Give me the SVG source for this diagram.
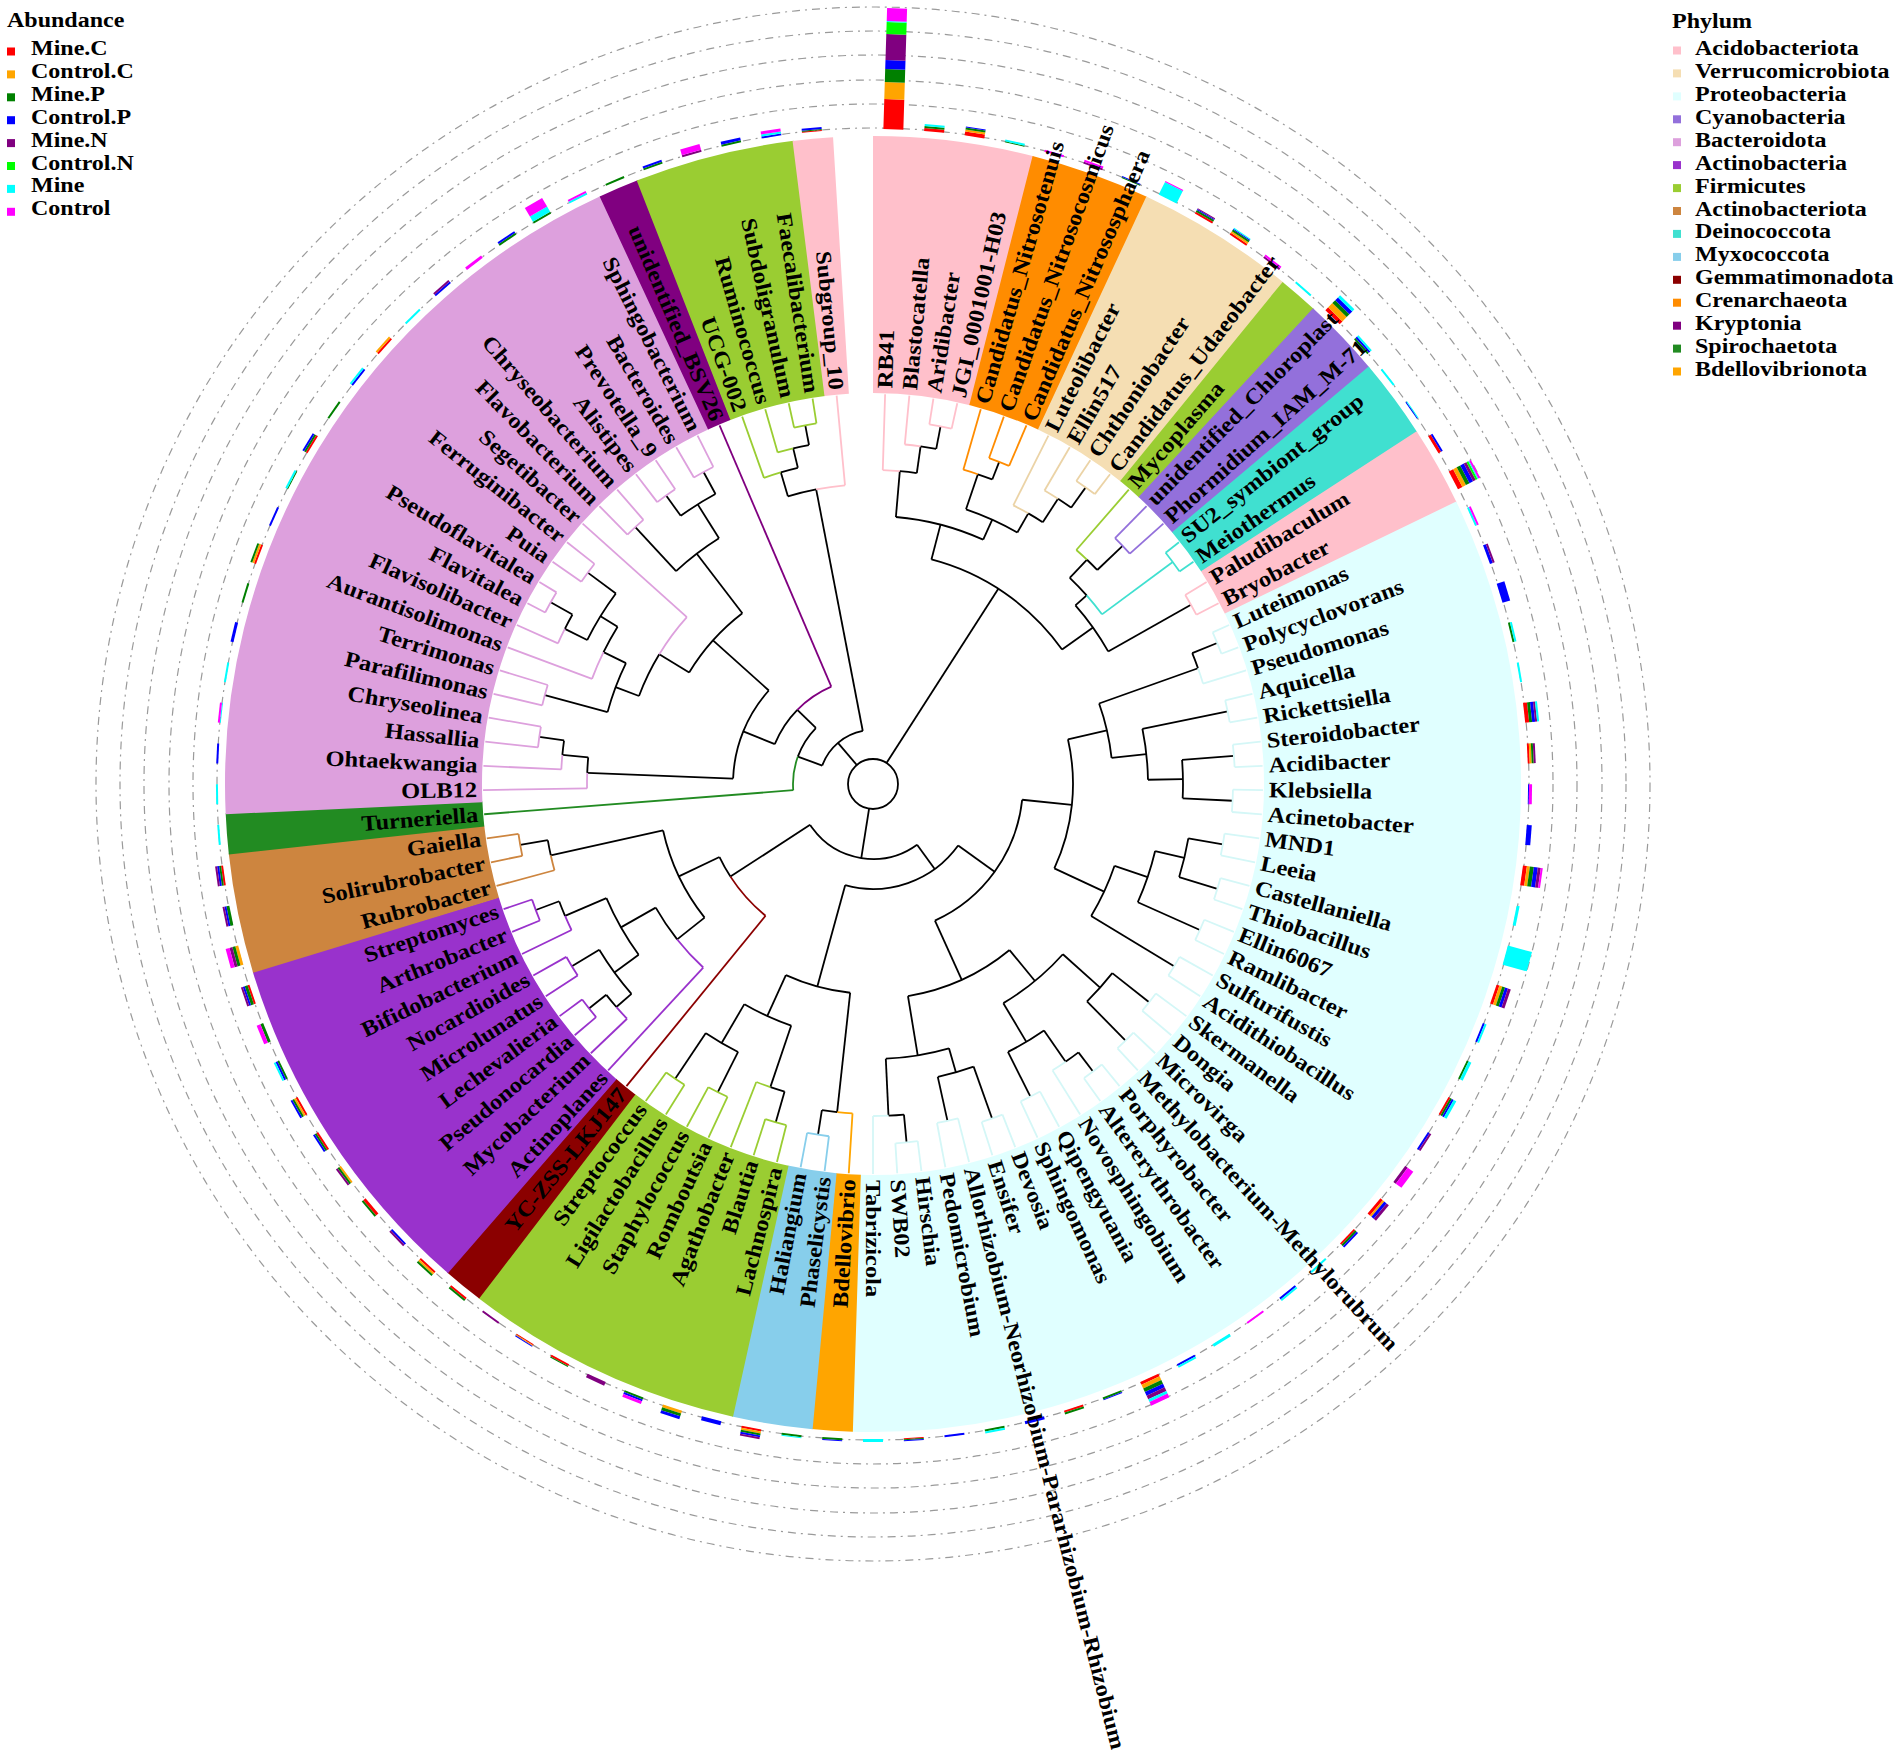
<svg xmlns="http://www.w3.org/2000/svg" width="1902" height="1758" viewBox="0 0 1902 1758">
<style>
text{font-family:"Liberation Serif","Times New Roman",serif;font-weight:bold;fill:#000}
.lb text{font-size:22px}
.lb .e{text-anchor:end}
.lg text{font-size:20px}
.sec circle{fill:none;stroke-width:257}
.grid circle{fill:none;stroke:#9a9a9a;stroke-width:1.2;stroke-dasharray:8 5 2 5}
#tree circle,#tree line{fill:none;stroke-width:1.8}
#bars line{stroke-width:20}
.r{stroke:#f00}.o{stroke:#ffa500}.g{stroke:#008000}.b{stroke:#00f}.p{stroke:#800080}.l{stroke:#0f0}.c{stroke:#0ff}.m{stroke:#f0f}
</style>
<rect width="1902" height="1758" fill="#fff"/>
<g transform="translate(873 784)">
<g id="sectors" class="sec">
<circle r="519.5" pathLength="360" stroke="#FFC0CB" stroke-dasharray="14.36 999" transform="rotate(-90)"/>
<circle r="519.5" pathLength="360" stroke="#FF8C00" stroke-dasharray="10.79 999" transform="rotate(-75.743)"/>
<circle r="519.5" pathLength="360" stroke="#F5DEB3" stroke-dasharray="14.36 999" transform="rotate(-65.05)"/>
<circle r="519.5" pathLength="360" stroke="#9ACD32" stroke-dasharray="3.66 999" transform="rotate(-50.792)"/>
<circle r="519.5" pathLength="360" stroke="#9370DB" stroke-dasharray="7.23 999" transform="rotate(-47.228)"/>
<circle r="519.5" pathLength="360" stroke="#40E0D0" stroke-dasharray="7.23 999" transform="rotate(-40.099)"/>
<circle r="519.5" pathLength="360" stroke="#FFC0CB" stroke-dasharray="7.23 999" transform="rotate(-32.97)"/>
<circle r="519.5" pathLength="360" stroke="#E0FFFF" stroke-dasharray="117.72 999" transform="rotate(-25.842)"/>
<circle r="519.5" pathLength="360" stroke="#FFA500" stroke-dasharray="3.66 999" transform="rotate(91.782)"/>
<circle r="519.5" pathLength="360" stroke="#87CEEB" stroke-dasharray="7.23 999" transform="rotate(95.347)"/>
<circle r="519.5" pathLength="360" stroke="#9ACD32" stroke-dasharray="25.05 999" transform="rotate(102.475)"/>
<circle r="519.5" pathLength="360" stroke="#8B0000" stroke-dasharray="3.66 999" transform="rotate(127.426)"/>
<circle r="519.5" pathLength="360" stroke="#9932CC" stroke-dasharray="32.18 999" transform="rotate(130.99)"/>
<circle r="519.5" pathLength="360" stroke="#CD853F" stroke-dasharray="10.79 999" transform="rotate(163.069)"/>
<circle r="519.5" pathLength="360" stroke="#228B22" stroke-dasharray="3.66 999" transform="rotate(173.762)"/>
<circle r="519.5" pathLength="360" stroke="#DDA0DD" stroke-dasharray="67.82 999" transform="rotate(177.327)"/>
<circle r="519.5" pathLength="360" stroke="#800080" stroke-dasharray="3.66 999" transform="rotate(245.05)"/>
<circle r="519.5" pathLength="360" stroke="#9ACD32" stroke-dasharray="14.36 999" transform="rotate(248.614)"/>
<circle r="519.5" pathLength="360" stroke="#FFC0CB" stroke-dasharray="3.6 999" transform="rotate(262.871)"/>
</g>
<g id="grid" class="grid">
<circle r="656"/><circle r="680"/><circle r="704"/><circle r="729"/><circle r="753"/><circle r="777"/>
</g>
<g id="bars">
<g transform="rotate(-88.22)"><line class="r" x1="655" x2="685"/><line class="o" x1="685" x2="702"/><line class="g" x1="702" x2="715"/><line class="b" x1="715" x2="724"/><line class="p" x1="724" x2="750"/><line class="l" x1="750" x2="762"/><line class="c" x1="762" x2="763"/><line class="m" x1="763" x2="776"/></g>
<g transform="rotate(-84.65)"><line class="r" x1="655" x2="658"/><line class="g" x1="658" x2="660"/><line class="c" x1="660" x2="662"/></g>
<g transform="rotate(-81.09)"><line class="r" x1="655" x2="659"/><line class="o" x1="659" x2="661"/><line class="g" x1="661" x2="663"/><line class="b" x1="663" x2="664"/></g>
<g transform="rotate(-77.52)"><line class="g" x1="655" x2="656"/><line class="c" x1="656" x2="658"/></g>
<g transform="rotate(-73.96)"><line class="m" x1="655" x2="657"/></g>
<g transform="rotate(-70.40)"><line class="p" x1="655" x2="657"/><line class="m" x1="657" x2="659"/></g>
<g transform="rotate(-66.83)"><line class="g" x1="655" x2="656"/><line class="b" x1="656" x2="657"/></g>
<g transform="rotate(-63.27)"><line class="c" x1="655" x2="669"/><line class="m" x1="669" x2="670"/></g>
<g transform="rotate(-59.70)"><line class="r" x1="655" x2="657"/><line class="g" x1="657" x2="659"/><line class="b" x1="659" x2="660"/><line class="p" x1="660" x2="661"/></g>
<g transform="rotate(-56.14)"><line class="r" x1="655" x2="657"/><line class="o" x1="657" x2="659"/><line class="g" x1="659" x2="661"/><line class="b" x1="661" x2="662"/><line class="c" x1="662" x2="663"/></g>
<g transform="rotate(-52.57)"><line class="p" x1="655" x2="657"/><line class="m" x1="657" x2="659"/></g>
<g transform="rotate(-49.01)"><line class="c" x1="655" x2="657"/></g>
<g transform="rotate(-45.45)"><line class="r" x1="655" x2="659"/><line class="o" x1="659" x2="665"/><line class="g" x1="665" x2="669"/><line class="b" x1="669" x2="673"/><line class="c" x1="673" x2="676"/></g>
<g transform="rotate(-41.88)"><line class="g" x1="655" x2="657"/><line class="b" x1="657" x2="659"/><line class="c" x1="659" x2="661"/></g>
<g transform="rotate(-38.32)"><line class="c" x1="655" x2="657"/></g>
<g transform="rotate(-34.75)"><line class="b" x1="655" x2="656"/><line class="c" x1="656" x2="657"/></g>
<g transform="rotate(-31.19)"><line class="r" x1="655" x2="658"/><line class="b" x1="658" x2="660"/></g>
<g transform="rotate(-27.62)"><line class="r" x1="655" x2="660"/><line class="o" x1="660" x2="664"/><line class="g" x1="664" x2="668"/><line class="b" x1="668" x2="672"/><line class="p" x1="672" x2="675"/><line class="l" x1="675" x2="677"/><line class="c" x1="677" x2="678"/><line class="m" x1="678" x2="680"/></g>
<g transform="rotate(-24.06)"><line class="c" x1="655" x2="657"/><line class="m" x1="657" x2="659"/></g>
<g transform="rotate(-20.50)"><line class="b" x1="655" x2="658"/><line class="p" x1="658" x2="660"/></g>
<g transform="rotate(-16.93)"><line class="b" x1="655" x2="663"/></g>
<g transform="rotate(-13.37)"><line class="g" x1="655" x2="657"/><line class="c" x1="657" x2="659"/></g>
<g transform="rotate(-9.80)"><line class="c" x1="655" x2="657"/></g>
<g transform="rotate(-6.24)"><line class="r" x1="655" x2="659"/><line class="g" x1="659" x2="662"/><line class="b" x1="662" x2="665"/><line class="p" x1="665" x2="667"/><line class="c" x1="667" x2="669"/></g>
<g transform="rotate(-2.67)"><line class="r" x1="655" x2="657"/><line class="o" x1="657" x2="659"/><line class="g" x1="659" x2="661"/><line class="p" x1="661" x2="663"/></g>
<g transform="rotate(0.89)"><line class="b" x1="655" x2="656"/><line class="m" x1="656" x2="659"/></g>
<g transform="rotate(4.46)"><line class="b" x1="655" x2="660"/></g>
<g transform="rotate(8.02)"><line class="r" x1="655" x2="659"/><line class="o" x1="659" x2="662"/><line class="g" x1="662" x2="666"/><line class="b" x1="666" x2="670"/><line class="p" x1="670" x2="673"/><line class="m" x1="673" x2="675"/></g>
<g transform="rotate(11.58)"><line class="c" x1="655" x2="658"/></g>
<g transform="rotate(15.15)"><line class="c" x1="655" x2="680"/></g>
<g transform="rotate(18.71)"><line class="r" x1="655" x2="658"/><line class="o" x1="658" x2="661"/><line class="g" x1="661" x2="664"/><line class="b" x1="664" x2="667"/><line class="p" x1="667" x2="670"/></g>
<g transform="rotate(22.28)"><line class="b" x1="655" x2="657"/><line class="c" x1="657" x2="659"/></g>
<g transform="rotate(25.84)"><line class="g" x1="655" x2="657"/><line class="c" x1="657" x2="660"/></g>
<g transform="rotate(29.41)"><line class="r" x1="655" x2="657"/><line class="g" x1="657" x2="659"/><line class="b" x1="659" x2="661"/><line class="c" x1="661" x2="664"/></g>
<g transform="rotate(32.97)"><line class="b" x1="655" x2="657"/><line class="p" x1="657" x2="659"/></g>
<g transform="rotate(36.53)"><line class="p" x1="655" x2="658"/><line class="m" x1="658" x2="665"/></g>
<g transform="rotate(40.10)"><line class="r" x1="655" x2="658"/><line class="o" x1="658" x2="660"/><line class="b" x1="660" x2="663"/><line class="p" x1="663" x2="666"/></g>
<g transform="rotate(43.66)"><line class="r" x1="655" x2="657"/><line class="g" x1="657" x2="659"/><line class="b" x1="659" x2="661"/></g>
<g transform="rotate(47.23)"><line class="c" x1="655" x2="657"/></g>
<g transform="rotate(50.79)"><line class="b" x1="655" x2="657"/><line class="c" x1="657" x2="659"/></g>
<g transform="rotate(54.36)"><line class="m" x1="655" x2="657"/></g>
<g transform="rotate(57.92)"><line class="c" x1="655" x2="658"/></g>
<g transform="rotate(61.49)"><line class="b" x1="655" x2="657"/><line class="c" x1="657" x2="659"/></g>
<g transform="rotate(65.05)"><line class="r" x1="655" x2="658"/><line class="o" x1="658" x2="662"/><line class="g" x1="662" x2="666"/><line class="b" x1="666" x2="670"/><line class="p" x1="670" x2="674"/><line class="c" x1="674" x2="677"/><line class="m" x1="677" x2="681"/></g>
<g transform="rotate(68.61)"><line class="g" x1="655" x2="657"/><line class="b" x1="657" x2="658"/></g>
<g transform="rotate(72.18)"><line class="r" x1="655" x2="657"/><line class="g" x1="657" x2="659"/></g>
<g transform="rotate(75.74)"><line class="b" x1="655" x2="658"/></g>
<g transform="rotate(79.31)"><line class="g" x1="655" x2="657"/><line class="c" x1="657" x2="659"/></g>
<g transform="rotate(82.87)"><line class="b" x1="655" x2="657"/></g>
<g transform="rotate(86.44)"><line class="r" x1="655" x2="656"/><line class="g" x1="656" x2="657"/><line class="b" x1="657" x2="658"/></g>
<g transform="rotate(90)"><line class="c" x1="655" x2="658"/></g>
<g transform="rotate(93.56)"><line class="g" x1="655" x2="657"/><line class="b" x1="657" x2="658"/></g>
<g transform="rotate(97.13)"><line class="g" x1="655" x2="657"/><line class="c" x1="657" x2="658"/></g>
<g transform="rotate(100.69)"><line class="r" x1="655" x2="657"/><line class="o" x1="657" x2="659"/><line class="g" x1="659" x2="661"/><line class="b" x1="661" x2="663"/><line class="p" x1="663" x2="665"/></g>
<g transform="rotate(104.26)"><line class="b" x1="655" x2="659"/></g>
<g transform="rotate(107.82)"><line class="o" x1="655" x2="658"/><line class="g" x1="658" x2="661"/><line class="b" x1="661" x2="664"/></g>
<g transform="rotate(111.39)"><line class="g" x1="655" x2="657"/><line class="b" x1="657" x2="659"/><line class="m" x1="659" x2="662"/></g>
<g transform="rotate(114.95)"><line class="p" x1="655" x2="659"/></g>
<g transform="rotate(118.51)"><line class="r" x1="655" x2="657"/><line class="g" x1="657" x2="658"/></g>
<g transform="rotate(122.08)"><line class="r" x1="655" x2="656"/><line class="o" x1="656" x2="657"/><line class="b" x1="657" x2="658"/></g>
<g transform="rotate(125.64)"><line class="p" x1="655" x2="657"/></g>
<g transform="rotate(129.21)"><line class="r" x1="655" x2="657"/><line class="g" x1="657" x2="659"/></g>
<g transform="rotate(132.77)"><line class="r" x1="655" x2="657"/><line class="o" x1="657" x2="659"/><line class="g" x1="659" x2="661"/></g>
<g transform="rotate(136.34)"><line class="b" x1="655" x2="657"/><line class="p" x1="657" x2="659"/></g>
<g transform="rotate(139.90)"><line class="r" x1="655" x2="658"/><line class="g" x1="658" x2="660"/></g>
<g transform="rotate(143.47)"><line class="o" x1="655" x2="657"/><line class="g" x1="657" x2="659"/><line class="p" x1="659" x2="661"/></g>
<g transform="rotate(147.03)"><line class="r" x1="655" x2="657"/><line class="g" x1="657" x2="659"/><line class="b" x1="659" x2="661"/></g>
<g transform="rotate(150.59)"><line class="r" x1="655" x2="657"/><line class="o" x1="657" x2="659"/><line class="g" x1="659" x2="661"/><line class="b" x1="661" x2="663"/></g>
<g transform="rotate(154.16)"><line class="g" x1="655" x2="657"/><line class="b" x1="657" x2="659"/><line class="c" x1="659" x2="661"/></g>
<g transform="rotate(157.72)"><line class="g" x1="655" x2="658"/><line class="m" x1="658" x2="662"/></g>
<g transform="rotate(161.29)"><line class="r" x1="655" x2="657"/><line class="g" x1="657" x2="660"/><line class="b" x1="660" x2="662"/><line class="p" x1="662" x2="664"/></g>
<g transform="rotate(164.85)"><line class="o" x1="655" x2="658"/><line class="g" x1="658" x2="661"/><line class="p" x1="661" x2="664"/><line class="m" x1="664" x2="668"/></g>
<g transform="rotate(168.42)"><line class="g" x1="655" x2="658"/><line class="b" x1="658" x2="660"/><line class="p" x1="660" x2="662"/></g>
<g transform="rotate(171.98)"><line class="r" x1="655" x2="657"/><line class="g" x1="657" x2="659"/><line class="b" x1="659" x2="661"/><line class="p" x1="661" x2="663"/></g>
<g transform="rotate(175.55)"><line class="c" x1="655" x2="657"/></g>
<g transform="rotate(179.11)"><line class="c" x1="655" x2="657"/></g>
<g transform="rotate(182.67)"><line class="b" x1="655" x2="657"/></g>
<g transform="rotate(186.24)"><line class="c" x1="655" x2="656"/><line class="m" x1="656" x2="658"/></g>
<g transform="rotate(189.80)"><line class="c" x1="655" x2="657"/></g>
<g transform="rotate(193.37)"><line class="b" x1="655" x2="658"/></g>
<g transform="rotate(196.93)"><line class="g" x1="655" x2="657"/></g>
<g transform="rotate(200.50)"><line class="r" x1="655" x2="657"/><line class="o" x1="657" x2="659"/><line class="g" x1="659" x2="661"/></g>
<g transform="rotate(204.06)"><line class="b" x1="655" x2="657"/></g>
<g transform="rotate(207.62)"><line class="g" x1="655" x2="656"/><line class="c" x1="656" x2="658"/></g>
<g transform="rotate(211.19)"><line class="r" x1="655" x2="657"/><line class="g" x1="657" x2="659"/><line class="b" x1="659" x2="661"/></g>
<g transform="rotate(214.75)"><line class="g" x1="655" x2="657"/></g>
<g transform="rotate(218.32)"><line class="b" x1="655" x2="657"/><line class="c" x1="657" x2="659"/></g>
<g transform="rotate(221.88)"><line class="r" x1="655" x2="657"/><line class="o" x1="657" x2="659"/></g>
<g transform="rotate(225.45)"><line class="c" x1="655" x2="657"/></g>
<g transform="rotate(229.01)"><line class="b" x1="655" x2="657"/><line class="p" x1="657" x2="659"/></g>
<g transform="rotate(232.57)"><line class="m" x1="655" x2="658"/></g>
<g transform="rotate(236.14)"><line class="g" x1="655" x2="657"/><line class="b" x1="657" x2="659"/></g>
<g transform="rotate(239.70)"><line class="g" x1="655" x2="657"/><line class="c" x1="657" x2="663"/><line class="m" x1="663" x2="673"/></g>
<g transform="rotate(243.27)"><line class="c" x1="655" x2="657"/><line class="m" x1="657" x2="659"/></g>
<g transform="rotate(246.83)"><line class="g" x1="655" x2="657"/></g>
<g transform="rotate(250.40)"><line class="g" x1="655" x2="657"/><line class="b" x1="657" x2="659"/></g>
<g transform="rotate(253.96)"><line class="p" x1="655" x2="657"/><line class="m" x1="657" x2="663"/></g>
<g transform="rotate(257.52)"><line class="g" x1="655" x2="657"/><line class="b" x1="657" x2="660"/></g>
<g transform="rotate(261.09)"><line class="b" x1="655" x2="657"/><line class="c" x1="657" x2="659"/><line class="m" x1="659" x2="662"/></g>
<g transform="rotate(264.65)"><line class="r" x1="655" x2="656"/><line class="g" x1="656" x2="657"/><line class="b" x1="657" x2="659"/></g>
</g>
<g id="tree">
<g stroke="#000">
<circle r="25"/>
<line x1="25" x2="54" transform="rotate(229.54)"/>
<line x1="25" x2="232" transform="rotate(-57.3)"/>
<line x1="25" x2="75" transform="rotate(99)"/>
<circle r="54" pathLength="360" stroke-dasharray="59.09 999" transform="rotate(200)"/>
<line x1="54" x2="80" transform="rotate(200)"/>
<line x1="54" x2="300" transform="rotate(259.08)"/>
<circle r="80" pathLength="360" stroke-dasharray="24.45 999" transform="rotate(200)"/>
<line x1="80" x2="106" transform="rotate(224.45)"/>
<circle r="106" pathLength="360" stroke-dasharray="22.38 999" transform="rotate(202.07)"/>
<line x1="106" x2="140" transform="rotate(202.07)"/>
<circle r="140" pathLength="360" stroke-dasharray="39.68 999" transform="rotate(182.23)"/>
<line x1="140" x2="286" transform="rotate(182.23)"/>
<line x1="140" x2="215" transform="rotate(221.91)"/>
<circle r="286" pathLength="360" stroke-dasharray="3.12 999" transform="rotate(182.23)"/>
<line x1="286" x2="312" transform="rotate(185.35)"/>
<circle r="312" pathLength="360" stroke-dasharray="2.67 999" transform="rotate(185.35)"/>
<line x1="312" x2="337" transform="rotate(188.02)"/>
<circle r="215" pathLength="360" stroke-dasharray="21.33 999" transform="rotate(211.24)"/>
<line x1="215" x2="250" transform="rotate(211.24)"/>
<line x1="215" x2="290" transform="rotate(232.58)"/>
<circle r="250" pathLength="360" stroke-dasharray="10.64 999" transform="rotate(200.61)"/>
<line x1="250" x2="275" transform="rotate(200.61)"/>
<circle r="275" pathLength="360" stroke-dasharray="10.92 999" transform="rotate(195.15)"/>
<line x1="275" x2="340" transform="rotate(195.15)"/>
<line x1="275" x2="300" transform="rotate(206.07)"/>
<circle r="300" pathLength="360" stroke-dasharray="5.57 999" transform="rotate(206.07)"/>
<line x1="300" x2="320" transform="rotate(211.63)"/>
<circle r="320" pathLength="360" stroke-dasharray="9.80 999" transform="rotate(206.73)"/>
<line x1="320" x2="345" transform="rotate(206.73)"/>
<line x1="320" x2="355" transform="rotate(216.54)"/>
<circle r="345" pathLength="360" stroke-dasharray="2.67 999" transform="rotate(206.73)"/>
<line x1="345" x2="370" transform="rotate(209.41)"/>
<circle r="290" pathLength="360" stroke-dasharray="10.69 999" transform="rotate(227.23)"/>
<line x1="290" x2="350" transform="rotate(227.23)"/>
<line x1="290" x2="330" transform="rotate(237.92)"/>
<circle r="330" pathLength="360" stroke-dasharray="7.13 999" transform="rotate(234.36)"/>
<line x1="330" x2="355" transform="rotate(234.36)"/>
<line x1="330" x2="355" transform="rotate(241.49)"/>
<circle r="300" pathLength="360" stroke-dasharray="5.57 999" transform="rotate(253.52)"/>
<line x1="300" x2="325" transform="rotate(253.52)"/>
<circle r="325" pathLength="360" stroke-dasharray="3.12 999" transform="rotate(253.52)"/>
<line x1="325" x2="345" transform="rotate(256.63)"/>
<circle r="345" pathLength="360" stroke-dasharray="2.67 999" transform="rotate(256.63)"/>
<line x1="345" x2="365" transform="rotate(259.31)"/>
<circle r="232" pathLength="360" stroke-dasharray="39.99 999" transform="rotate(-75.41)"/>
<line x1="232" x2="268" transform="rotate(-75.41)"/>
<line x1="232" x2="270" transform="rotate(-35.42)"/>
<circle r="268" pathLength="360" stroke-dasharray="19.38 999" transform="rotate(-85.10)"/>
<line x1="268" x2="314" transform="rotate(-85.10)"/>
<line x1="268" x2="290" transform="rotate(-65.72)"/>
<circle r="314" pathLength="360" stroke-dasharray="3.12 999" transform="rotate(-85.10)"/>
<line x1="314" x2="341" transform="rotate(-81.98)"/>
<circle r="341" pathLength="360" stroke-dasharray="2.67 999" transform="rotate(-81.98)"/>
<line x1="341" x2="364" transform="rotate(-79.31)"/>
<circle r="290" pathLength="360" stroke-dasharray="11.14 999" transform="rotate(-71.29)"/>
<line x1="290" x2="327" transform="rotate(-71.29)"/>
<line x1="290" x2="312" transform="rotate(-60.15)"/>
<circle r="327" pathLength="360" stroke-dasharray="2.67 999" transform="rotate(-71.29)"/>
<line x1="327" x2="346" transform="rotate(-68.61)"/>
<circle r="312" pathLength="360" stroke-dasharray="3.12 999" transform="rotate(-60.15)"/>
<line x1="312" x2="340" transform="rotate(-57.03)"/>
<circle r="340" pathLength="360" stroke-dasharray="2.67 999" transform="rotate(-57.03)"/>
<line x1="340" x2="365" transform="rotate(-54.36)"/>
<circle r="270" pathLength="360" stroke-dasharray="12.03 999" transform="rotate(-41.44)"/>
<line x1="270" x2="285" transform="rotate(-41.44)"/>
<line x1="270" x2="365" transform="rotate(-29.41)"/>
<circle r="285" pathLength="360" stroke-dasharray="4.90 999" transform="rotate(-46.34)"/>
<line x1="285" x2="310" transform="rotate(-46.34)"/>
<circle r="310" pathLength="360" stroke-dasharray="2.67 999" transform="rotate(-46.34)"/>
<line x1="310" x2="345" transform="rotate(-43.66)"/>
<circle r="75" pathLength="360" stroke-dasharray="93 999" transform="rotate(54)"/>
<line x1="75" x2="170" transform="rotate(147)"/>
<line x1="75" x2="105" transform="rotate(54)"/>
<circle r="105" pathLength="360" stroke-dasharray="69.56 999" transform="rotate(35.81)"/>
<line x1="105" x2="150" transform="rotate(35.81)"/>
<line x1="105" x2="210" transform="rotate(105.37)"/>
<circle r="150" pathLength="360" stroke-dasharray="59.59 999" transform="rotate(6.02)"/>
<line x1="150" x2="200" transform="rotate(6.02)"/>
<line x1="150" x2="215" transform="rotate(65.61)"/>
<circle r="200" pathLength="360" stroke-dasharray="37.87 999" transform="rotate(-12.92)"/>
<line x1="200" x2="240" transform="rotate(-12.92)"/>
<line x1="200" x2="255" transform="rotate(24.95)"/>
<circle r="240" pathLength="360" stroke-dasharray="13.37 999" transform="rotate(-19.60)"/>
<line x1="240" x2="345" transform="rotate(-19.60)"/>
<line x1="240" x2="275" transform="rotate(-6.24)"/>
<circle r="345" pathLength="360" stroke-dasharray="2.67 999" transform="rotate(-22.28)"/>
<line x1="345" x2="372" transform="rotate(-22.28)"/>
<circle r="275" pathLength="360" stroke-dasharray="10.69 999" transform="rotate(-11.58)"/>
<line x1="275" x2="362" transform="rotate(-11.58)"/>
<line x1="275" x2="310" transform="rotate(-0.89)"/>
<circle r="310" pathLength="360" stroke-dasharray="7.13 999" transform="rotate(-4.46)"/>
<line x1="310" x2="362" transform="rotate(-4.46)"/>
<line x1="310" x2="360" transform="rotate(2.67)"/>
<circle r="255" pathLength="360" stroke-dasharray="12.48 999" transform="rotate(18.71)"/>
<line x1="255" x2="290" transform="rotate(18.71)"/>
<line x1="255" x2="352" transform="rotate(31.19)"/>
<circle r="290" pathLength="360" stroke-dasharray="10.69 999" transform="rotate(13.37)"/>
<line x1="290" x2="320" transform="rotate(13.37)"/>
<line x1="290" x2="358" transform="rotate(24.06)"/>
<circle r="320" pathLength="360" stroke-dasharray="7.13 999" transform="rotate(9.80)"/>
<line x1="320" x2="355" transform="rotate(9.80)"/>
<line x1="320" x2="360" transform="rotate(16.93)"/>
<circle r="215" pathLength="360" stroke-dasharray="30.08 999" transform="rotate(50.57)"/>
<line x1="215" x2="255" transform="rotate(50.57)"/>
<line x1="215" x2="275" transform="rotate(80.64)"/>
<circle r="255" pathLength="360" stroke-dasharray="17.38 999" transform="rotate(41.88)"/>
<line x1="255" x2="305" transform="rotate(41.88)"/>
<line x1="255" x2="300" transform="rotate(59.26)"/>
<circle r="305" pathLength="360" stroke-dasharray="7.13 999" transform="rotate(38.32)"/>
<line x1="305" x2="352" transform="rotate(38.32)"/>
<line x1="305" x2="360" transform="rotate(45.45)"/>
<circle r="300" pathLength="360" stroke-dasharray="8.02 999" transform="rotate(55.25)"/>
<line x1="300" x2="338" transform="rotate(55.25)"/>
<line x1="300" x2="350" transform="rotate(63.27)"/>
<circle r="338" pathLength="360" stroke-dasharray="2.67 999" transform="rotate(52.57)"/>
<line x1="338" x2="362" transform="rotate(52.57)"/>
<circle r="275" pathLength="360" stroke-dasharray="13.37 999" transform="rotate(73.96)"/>
<line x1="275" x2="300" transform="rotate(73.96)"/>
<line x1="275" x2="332" transform="rotate(87.33)"/>
<circle r="300" pathLength="360" stroke-dasharray="7.13 999" transform="rotate(70.40)"/>
<line x1="300" x2="355" transform="rotate(70.40)"/>
<line x1="300" x2="345" transform="rotate(77.53)"/>
<circle r="332" pathLength="360" stroke-dasharray="2.67 999" transform="rotate(84.65)"/>
<line x1="332" x2="360" transform="rotate(84.65)"/>
<circle r="210" pathLength="360" stroke-dasharray="18.27 999" transform="rotate(96.24)"/>
<line x1="210" x2="330" transform="rotate(96.24)"/>
<line x1="210" x2="255" transform="rotate(114.51)"/>
<circle r="330" pathLength="360" stroke-dasharray="2.67 999" transform="rotate(96.24)"/>
<line x1="330" x2="355" transform="rotate(98.91)"/>
<circle r="255" pathLength="360" stroke-dasharray="11.58 999" transform="rotate(108.71)"/>
<line x1="255" x2="320" transform="rotate(108.71)"/>
<line x1="255" x2="300" transform="rotate(120.30)"/>
<circle r="320" pathLength="360" stroke-dasharray="2.67 999" transform="rotate(106.04)"/>
<line x1="320" x2="352" transform="rotate(106.04)"/>
<circle r="300" pathLength="360" stroke-dasharray="7.13 999" transform="rotate(116.73)"/>
<line x1="300" x2="345" transform="rotate(116.73)"/>
<line x1="300" x2="355" transform="rotate(123.86)"/>
<circle r="170" pathLength="360" stroke-dasharray="7.55 999" transform="rotate(147)"/>
<line x1="170" x2="215" transform="rotate(154.55)"/>
<circle r="215" pathLength="360" stroke-dasharray="25.95 999" transform="rotate(141.57)"/>
<line x1="215" x2="250" transform="rotate(141.57)"/>
<line x1="215" x2="330" transform="rotate(167.53)"/>
<circle r="250" pathLength="360" stroke-dasharray="8.80 999" transform="rotate(141.57)"/>
<line x1="250" x2="290" transform="rotate(150.37)"/>
<circle r="290" pathLength="360" stroke-dasharray="12.92 999" transform="rotate(143.91)"/>
<line x1="290" x2="320" transform="rotate(143.91)"/>
<line x1="290" x2="335" transform="rotate(156.83)"/>
<circle r="320" pathLength="360" stroke-dasharray="9.80 999" transform="rotate(139.01)"/>
<line x1="320" x2="340" transform="rotate(139.01)"/>
<line x1="320" x2="352" transform="rotate(148.81)"/>
<circle r="340" pathLength="360" stroke-dasharray="2.67 999" transform="rotate(139.01)"/>
<line x1="340" x2="362" transform="rotate(141.68)"/>
<circle r="335" pathLength="360" stroke-dasharray="2.67 999" transform="rotate(156.83)"/>
<line x1="335" x2="360" transform="rotate(159.51)"/>
<circle r="330" pathLength="360" stroke-dasharray="2.67 999" transform="rotate(167.53)"/>
<line x1="330" x2="358" transform="rotate(170.20)"/>
</g>
<g stroke="#228B22">
<circle r="80" pathLength="360" stroke-dasharray="24.45 999" transform="rotate(175.55)"/>
<line x1="80" x2="390" transform="rotate(175.55)"/>
</g>
<g stroke="#800080">
<circle r="106" pathLength="360" stroke-dasharray="22.38 999" transform="rotate(224.45)"/>
<line x1="106" x2="390" transform="rotate(246.83)"/>
</g>
<g stroke="#DDA0DD">
<circle r="286" pathLength="360" stroke-dasharray="3.12 999" transform="rotate(179.11)"/>
<line x1="286" x2="390" transform="rotate(179.11)"/>
<circle r="312" pathLength="360" stroke-dasharray="2.67 999" transform="rotate(182.67)"/>
<line x1="312" x2="390" transform="rotate(182.67)"/>
<circle r="337" pathLength="360" stroke-dasharray="3.56 999" transform="rotate(186.24)"/>
<line x1="337" x2="390" transform="rotate(186.24)"/>
<line x1="337" x2="390" transform="rotate(189.80)"/>
<circle r="250" pathLength="360" stroke-dasharray="10.64 999" transform="rotate(211.24)"/>
<line x1="250" x2="390" transform="rotate(221.88)"/>
<circle r="340" pathLength="360" stroke-dasharray="3.56 999" transform="rotate(193.37)"/>
<line x1="340" x2="390" transform="rotate(193.37)"/>
<line x1="340" x2="390" transform="rotate(196.93)"/>
<circle r="300" pathLength="360" stroke-dasharray="5.57 999" transform="rotate(200.50)"/>
<line x1="300" x2="390" transform="rotate(200.50)"/>
<circle r="345" pathLength="360" stroke-dasharray="2.67 999" transform="rotate(204.06)"/>
<line x1="345" x2="390" transform="rotate(204.06)"/>
<circle r="370" pathLength="360" stroke-dasharray="3.56 999" transform="rotate(207.62)"/>
<line x1="370" x2="390" transform="rotate(207.62)"/>
<line x1="370" x2="390" transform="rotate(211.19)"/>
<circle r="355" pathLength="360" stroke-dasharray="3.57 999" transform="rotate(214.75)"/>
<line x1="355" x2="390" transform="rotate(214.75)"/>
<line x1="355" x2="390" transform="rotate(218.32)"/>
<circle r="350" pathLength="360" stroke-dasharray="3.56 999" transform="rotate(225.45)"/>
<line x1="350" x2="390" transform="rotate(225.45)"/>
<line x1="350" x2="390" transform="rotate(229.01)"/>
<circle r="355" pathLength="360" stroke-dasharray="3.57 999" transform="rotate(232.57)"/>
<line x1="355" x2="390" transform="rotate(232.57)"/>
<line x1="355" x2="390" transform="rotate(236.14)"/>
<circle r="355" pathLength="360" stroke-dasharray="3.56 999" transform="rotate(239.70)"/>
<line x1="355" x2="390" transform="rotate(239.70)"/>
<line x1="355" x2="390" transform="rotate(243.27)"/>
</g>
<g stroke="#FFC0CB">
<circle r="300" pathLength="360" stroke-dasharray="5.57 999" transform="rotate(259.08)"/>
<line x1="300" x2="390" transform="rotate(264.65)"/>
<circle r="314" pathLength="360" stroke-dasharray="3.12 999" transform="rotate(-88.22)"/>
<line x1="314" x2="390" transform="rotate(-88.22)"/>
<circle r="341" pathLength="360" stroke-dasharray="2.67 999" transform="rotate(-84.65)"/>
<line x1="341" x2="390" transform="rotate(-84.65)"/>
<circle r="364" pathLength="360" stroke-dasharray="3.56 999" transform="rotate(-81.09)"/>
<line x1="364" x2="390" transform="rotate(-81.09)"/>
<line x1="364" x2="390" transform="rotate(-77.52)"/>
<circle r="365" pathLength="360" stroke-dasharray="3.56 999" transform="rotate(-31.19)"/>
<line x1="365" x2="390" transform="rotate(-31.19)"/>
<line x1="365" x2="390" transform="rotate(-27.62)"/>
</g>
<g stroke="#9ACD32">
<circle r="325" pathLength="360" stroke-dasharray="3.12 999" transform="rotate(250.40)"/>
<line x1="325" x2="390" transform="rotate(250.40)"/>
<circle r="345" pathLength="360" stroke-dasharray="2.67 999" transform="rotate(253.96)"/>
<line x1="345" x2="390" transform="rotate(253.96)"/>
<circle r="365" pathLength="360" stroke-dasharray="3.56 999" transform="rotate(257.52)"/>
<line x1="365" x2="390" transform="rotate(257.52)"/>
<line x1="365" x2="390" transform="rotate(261.09)"/>
<circle r="310" pathLength="360" stroke-dasharray="2.67 999" transform="rotate(-49.01)"/>
<line x1="310" x2="390" transform="rotate(-49.01)"/>
<circle r="320" pathLength="360" stroke-dasharray="2.67 999" transform="rotate(108.71)"/>
<line x1="320" x2="390" transform="rotate(111.39)"/>
<circle r="352" pathLength="360" stroke-dasharray="3.57 999" transform="rotate(104.26)"/>
<line x1="352" x2="390" transform="rotate(104.26)"/>
<line x1="352" x2="390" transform="rotate(107.82)"/>
<circle r="345" pathLength="360" stroke-dasharray="3.57 999" transform="rotate(114.95)"/>
<line x1="345" x2="390" transform="rotate(114.95)"/>
<line x1="345" x2="390" transform="rotate(118.51)"/>
<circle r="355" pathLength="360" stroke-dasharray="3.57 999" transform="rotate(122.08)"/>
<line x1="355" x2="390" transform="rotate(122.08)"/>
<line x1="355" x2="390" transform="rotate(125.64)"/>
</g>
<g stroke="#FF8C00">
<circle r="327" pathLength="360" stroke-dasharray="2.67 999" transform="rotate(-73.96)"/>
<line x1="327" x2="390" transform="rotate(-73.96)"/>
<circle r="346" pathLength="360" stroke-dasharray="3.56 999" transform="rotate(-70.40)"/>
<line x1="346" x2="390" transform="rotate(-70.40)"/>
<line x1="346" x2="390" transform="rotate(-66.83)"/>
</g>
<g stroke="#EBD3A6">
<circle r="312" pathLength="360" stroke-dasharray="3.12 999" transform="rotate(-63.27)"/>
<line x1="312" x2="390" transform="rotate(-63.27)"/>
<circle r="340" pathLength="360" stroke-dasharray="2.67 999" transform="rotate(-59.70)"/>
<line x1="340" x2="390" transform="rotate(-59.70)"/>
<circle r="365" pathLength="360" stroke-dasharray="3.57 999" transform="rotate(-56.14)"/>
<line x1="365" x2="390" transform="rotate(-56.14)"/>
<line x1="365" x2="390" transform="rotate(-52.57)"/>
</g>
<g stroke="#40E0D0">
<circle r="285" pathLength="360" stroke-dasharray="4.90 999" transform="rotate(-41.44)"/>
<line x1="285" x2="373" transform="rotate(-36.53)"/>
<circle r="373" pathLength="360" stroke-dasharray="3.57 999" transform="rotate(-38.32)"/>
<line x1="373" x2="390" transform="rotate(-38.32)"/>
<line x1="373" x2="390" transform="rotate(-34.75)"/>
</g>
<g stroke="#9370DB">
<circle r="345" pathLength="360" stroke-dasharray="3.57 999" transform="rotate(-45.45)"/>
<line x1="345" x2="390" transform="rotate(-45.45)"/>
<line x1="345" x2="390" transform="rotate(-41.88)"/>
</g>
<g stroke="#D4F7F7">
<circle r="345" pathLength="360" stroke-dasharray="2.67 999" transform="rotate(-19.60)"/>
<line x1="345" x2="390" transform="rotate(-16.93)"/>
<circle r="372" pathLength="360" stroke-dasharray="3.56 999" transform="rotate(-24.06)"/>
<line x1="372" x2="390" transform="rotate(-24.06)"/>
<line x1="372" x2="390" transform="rotate(-20.50)"/>
<circle r="362" pathLength="360" stroke-dasharray="3.56 999" transform="rotate(-13.37)"/>
<line x1="362" x2="390" transform="rotate(-13.37)"/>
<line x1="362" x2="390" transform="rotate(-9.80)"/>
<circle r="362" pathLength="360" stroke-dasharray="3.57 999" transform="rotate(-6.24)"/>
<line x1="362" x2="390" transform="rotate(-6.24)"/>
<line x1="362" x2="390" transform="rotate(-2.67)"/>
<circle r="360" pathLength="360" stroke-dasharray="3.56 999" transform="rotate(0.89)"/>
<line x1="360" x2="390" transform="rotate(0.89)"/>
<line x1="360" x2="390" transform="rotate(4.46)"/>
<circle r="355" pathLength="360" stroke-dasharray="3.56 999" transform="rotate(8.02)"/>
<line x1="355" x2="390" transform="rotate(8.02)"/>
<line x1="355" x2="390" transform="rotate(11.58)"/>
<circle r="360" pathLength="360" stroke-dasharray="3.56 999" transform="rotate(15.15)"/>
<line x1="360" x2="390" transform="rotate(15.15)"/>
<line x1="360" x2="390" transform="rotate(18.71)"/>
<circle r="358" pathLength="360" stroke-dasharray="3.57 999" transform="rotate(22.28)"/>
<line x1="358" x2="390" transform="rotate(22.28)"/>
<line x1="358" x2="390" transform="rotate(25.84)"/>
<circle r="352" pathLength="360" stroke-dasharray="3.56 999" transform="rotate(29.41)"/>
<line x1="352" x2="390" transform="rotate(29.41)"/>
<line x1="352" x2="390" transform="rotate(32.97)"/>
<circle r="352" pathLength="360" stroke-dasharray="3.56 999" transform="rotate(36.53)"/>
<line x1="352" x2="390" transform="rotate(36.53)"/>
<line x1="352" x2="390" transform="rotate(40.10)"/>
<circle r="360" pathLength="360" stroke-dasharray="3.57 999" transform="rotate(43.66)"/>
<line x1="360" x2="390" transform="rotate(43.66)"/>
<line x1="360" x2="390" transform="rotate(47.23)"/>
<circle r="338" pathLength="360" stroke-dasharray="2.67 999" transform="rotate(55.25)"/>
<line x1="338" x2="390" transform="rotate(57.92)"/>
<circle r="362" pathLength="360" stroke-dasharray="3.56 999" transform="rotate(50.79)"/>
<line x1="362" x2="390" transform="rotate(50.79)"/>
<line x1="362" x2="390" transform="rotate(54.36)"/>
<circle r="350" pathLength="360" stroke-dasharray="3.57 999" transform="rotate(61.49)"/>
<line x1="350" x2="390" transform="rotate(61.49)"/>
<line x1="350" x2="390" transform="rotate(65.05)"/>
<circle r="355" pathLength="360" stroke-dasharray="3.56 999" transform="rotate(68.61)"/>
<line x1="355" x2="390" transform="rotate(68.61)"/>
<line x1="355" x2="390" transform="rotate(72.18)"/>
<circle r="345" pathLength="360" stroke-dasharray="3.56 999" transform="rotate(75.74)"/>
<line x1="345" x2="390" transform="rotate(75.74)"/>
<line x1="345" x2="390" transform="rotate(79.31)"/>
<circle r="332" pathLength="360" stroke-dasharray="2.67 999" transform="rotate(87.33)"/>
<line x1="332" x2="390" transform="rotate(90)"/>
<circle r="360" pathLength="360" stroke-dasharray="3.57 999" transform="rotate(82.87)"/>
<line x1="360" x2="390" transform="rotate(82.87)"/>
<line x1="360" x2="390" transform="rotate(86.44)"/>
</g>
<g stroke="#FFA500">
<circle r="330" pathLength="360" stroke-dasharray="2.67 999" transform="rotate(93.56)"/>
<line x1="330" x2="390" transform="rotate(93.56)"/>
</g>
<g stroke="#87CEEB">
<circle r="355" pathLength="360" stroke-dasharray="3.56 999" transform="rotate(97.13)"/>
<line x1="355" x2="390" transform="rotate(97.13)"/>
<line x1="355" x2="390" transform="rotate(100.69)"/>
</g>
<g stroke="#8B0000">
<circle r="170" pathLength="360" stroke-dasharray="17.79 999" transform="rotate(129.21)"/>
<line x1="170" x2="390" transform="rotate(129.21)"/>
</g>
<g stroke="#9932CC">
<circle r="250" pathLength="360" stroke-dasharray="8.80 999" transform="rotate(132.77)"/>
<line x1="250" x2="390" transform="rotate(132.77)"/>
<circle r="340" pathLength="360" stroke-dasharray="2.67 999" transform="rotate(136.34)"/>
<line x1="340" x2="390" transform="rotate(136.34)"/>
<circle r="362" pathLength="360" stroke-dasharray="3.57 999" transform="rotate(139.90)"/>
<line x1="362" x2="390" transform="rotate(139.90)"/>
<line x1="362" x2="390" transform="rotate(143.47)"/>
<circle r="352" pathLength="360" stroke-dasharray="3.56 999" transform="rotate(147.03)"/>
<line x1="352" x2="390" transform="rotate(147.03)"/>
<line x1="352" x2="390" transform="rotate(150.59)"/>
<circle r="335" pathLength="360" stroke-dasharray="2.67 999" transform="rotate(154.16)"/>
<line x1="335" x2="390" transform="rotate(154.16)"/>
<circle r="360" pathLength="360" stroke-dasharray="3.57 999" transform="rotate(157.72)"/>
<line x1="360" x2="390" transform="rotate(157.72)"/>
<line x1="360" x2="390" transform="rotate(161.29)"/>
</g>
<g stroke="#CD853F">
<circle r="330" pathLength="360" stroke-dasharray="2.67 999" transform="rotate(164.85)"/>
<line x1="330" x2="390" transform="rotate(164.85)"/>
<circle r="358" pathLength="360" stroke-dasharray="3.56 999" transform="rotate(168.42)"/>
<line x1="358" x2="390" transform="rotate(168.42)"/>
<line x1="358" x2="390" transform="rotate(171.98)"/>
</g>
</g>
<g id="labels" class="lb">
<g id="n1"><text transform="rotate(-88.22) translate(396 0) scale(1.11 1)" dy="7">RB41</text></g>
<g id="n2"><text transform="rotate(-84.65) translate(396 0) scale(1.11 1)" dy="7">Blastocatella</text></g>
<g id="n3"><text transform="rotate(-81.09) translate(396 0) scale(1.11 1)" dy="7">Aridibacter</text></g>
<g id="n4"><text transform="rotate(-77.52) translate(396 0) scale(1.11 1)" dy="7">JGI_0001001-H03</text></g>
<g id="n5"><text transform="rotate(-73.96) translate(396 0) scale(1.11 1)" dy="7">Candidatus_Nitrosotenuis</text></g>
<g id="n6"><text transform="rotate(-70.40) translate(396 0) scale(1.11 1)" dy="7">Candidatus_Nitrosocosmicus</text></g>
<g id="n7"><text transform="rotate(-66.83) translate(396 0) scale(1.11 1)" dy="7">Candidatus_Nitrososphaera</text></g>
<g id="n8"><text transform="rotate(-63.27) translate(396 0) scale(1.11 1)" dy="7">Luteolibacter</text></g>
<g id="n9"><text transform="rotate(-59.70) translate(396 0) scale(1.11 1)" dy="7">Ellin517</text></g>
<g id="n10"><text transform="rotate(-56.14) translate(396 0) scale(1.11 1)" dy="7">Chthoniobacter</text></g>
<g id="n11"><text transform="rotate(-52.57) translate(396 0) scale(1.11 1)" dy="7">Candidatus_Udaeobacter</text></g>
<g id="n12"><text transform="rotate(-49.01) translate(396 0) scale(1.11 1)" dy="7">Mycoplasma</text></g>
<g id="n13"><text transform="rotate(-45.45) translate(396 0) scale(1.11 1)" dy="7">unidentified_Chloroplast</text></g>
<g id="n14"><text transform="rotate(-41.88) translate(396 0) scale(1.11 1)" dy="7">Phormidium_IAM_M-71</text></g>
<g id="n15"><text transform="rotate(-38.32) translate(396 0) scale(1.11 1)" dy="7">SU2_symbiont_group</text></g>
<g id="n16"><text transform="rotate(-34.75) translate(396 0) scale(1.11 1)" dy="7">Meiothermus</text></g>
<g id="n17"><text transform="rotate(-31.19) translate(396 0) scale(1.11 1)" dy="7">Paludibaculum</text></g>
<g id="n18"><text transform="rotate(-27.62) translate(396 0) scale(1.11 1)" dy="7">Bryobacter</text></g>
<g id="n19"><text transform="rotate(-24.06) translate(396 0) scale(1.11 1)" dy="7">Luteimonas</text></g>
<g id="n20"><text transform="rotate(-20.50) translate(396 0) scale(1.11 1)" dy="7">Polycyclovorans</text></g>
<g id="n21"><text transform="rotate(-16.93) translate(396 0) scale(1.11 1)" dy="7">Pseudomonas</text></g>
<g id="n22"><text transform="rotate(-13.37) translate(396 0) scale(1.11 1)" dy="7">Aquicella</text></g>
<g id="n23"><text transform="rotate(-9.80) translate(396 0) scale(1.11 1)" dy="7">Rickettsiella</text></g>
<g id="n24"><text transform="rotate(-6.24) translate(396 0) scale(1.11 1)" dy="7">Steroidobacter</text></g>
<g id="n25"><text transform="rotate(-2.67) translate(396 0) scale(1.11 1)" dy="7">Acidibacter</text></g>
<g id="n26"><text transform="rotate(0.89) translate(396 0) scale(1.11 1)" dy="7">Klebsiella</text></g>
<g id="n27"><text transform="rotate(4.46) translate(396 0) scale(1.11 1)" dy="7">Acinetobacter</text></g>
<g id="n28"><text transform="rotate(8.02) translate(396 0) scale(1.11 1)" dy="7">MND1</text></g>
<g id="n29"><text transform="rotate(11.58) translate(396 0) scale(1.11 1)" dy="7">Leeia</text></g>
<g id="n30"><text transform="rotate(15.15) translate(396 0) scale(1.11 1)" dy="7">Castellaniella</text></g>
<g id="n31"><text transform="rotate(18.71) translate(396 0) scale(1.11 1)" dy="7">Thiobacillus</text></g>
<g id="n32"><text transform="rotate(22.28) translate(396 0) scale(1.11 1)" dy="7">Ellin6067</text></g>
<g id="n33"><text transform="rotate(25.84) translate(396 0) scale(1.11 1)" dy="7">Ramlibacter</text></g>
<g id="n34"><text transform="rotate(29.41) translate(396 0) scale(1.11 1)" dy="7">Sulfurifustis</text></g>
<g id="n35"><text transform="rotate(32.97) translate(396 0) scale(1.11 1)" dy="7">Acidithiobacillus</text></g>
<g id="n36"><text transform="rotate(36.53) translate(396 0) scale(1.11 1)" dy="7">Skermanella</text></g>
<g id="n37"><text transform="rotate(40.10) translate(396 0) scale(1.11 1)" dy="7">Dongia</text></g>
<g id="n38"><text transform="rotate(43.66) translate(396 0) scale(1.11 1)" dy="7">Microvirga</text></g>
<g id="n39"><text transform="rotate(47.23) translate(396 0) scale(1.11 1)" dy="7">Methylobacterium-Methylorubrum</text></g>
<g id="n40"><text transform="rotate(50.79) translate(396 0) scale(1.11 1)" dy="7">Porphyrobacter</text></g>
<g id="n41"><text transform="rotate(54.36) translate(396 0) scale(1.11 1)" dy="7">Altererythrobacter</text></g>
<g id="n42"><text transform="rotate(57.92) translate(396 0) scale(1.11 1)" dy="7">Novosphingobium</text></g>
<g id="n43"><text transform="rotate(61.49) translate(396 0) scale(1.11 1)" dy="7">Qipengyuania</text></g>
<g id="n44"><text transform="rotate(65.05) translate(396 0) scale(1.11 1)" dy="7">Sphingomonas</text></g>
<g id="n45"><text transform="rotate(68.61) translate(396 0) scale(1.11 1)" dy="7">Devosia</text></g>
<g id="n46"><text transform="rotate(72.18) translate(396 0) scale(1.11 1)" dy="7">Ensifer</text></g>
<g id="n47"><text transform="rotate(75.74) translate(396 0) scale(1.11 1)" dy="7">Allorhizobium-Neorhizobium-Pararhizobium-Rhizobium</text></g>
<g id="n48"><text transform="rotate(79.31) translate(396 0) scale(1.11 1)" dy="7">Pedomicrobium</text></g>
<g id="n49"><text transform="rotate(82.87) translate(396 0) scale(1.11 1)" dy="7">Hirschia</text></g>
<g id="n50"><text transform="rotate(86.44) translate(396 0) scale(1.11 1)" dy="7">SWB02</text></g>
<g id="n51"><text transform="rotate(90) translate(396 0) scale(1.11 1)" dy="7">Tabrizicola</text></g>
<g id="n52"><text class="e" transform="rotate(-86.44) translate(-396 0) scale(1.11 1)" dy="7">Bdellovibrio</text></g>
<g id="n53"><text class="e" transform="rotate(-82.87) translate(-396 0) scale(1.11 1)" dy="7">Phaselicystis</text></g>
<g id="n54"><text class="e" transform="rotate(-79.31) translate(-396 0) scale(1.11 1)" dy="7">Haliangium</text></g>
<g id="n55"><text class="e" transform="rotate(-75.74) translate(-396 0) scale(1.11 1)" dy="7">Lachnospira</text></g>
<g id="n56"><text class="e" transform="rotate(-72.18) translate(-396 0) scale(1.11 1)" dy="7">Blautia</text></g>
<g id="n57"><text class="e" transform="rotate(-68.61) translate(-396 0) scale(1.11 1)" dy="7">Agathobacter</text></g>
<g id="n58"><text class="e" transform="rotate(-65.05) translate(-396 0) scale(1.11 1)" dy="7">Romboutsia</text></g>
<g id="n59"><text class="e" transform="rotate(-61.49) translate(-396 0) scale(1.11 1)" dy="7">Staphylococcus</text></g>
<g id="n60"><text class="e" transform="rotate(-57.92) translate(-396 0) scale(1.11 1)" dy="7">Ligilactobacillus</text></g>
<g id="n61"><text class="e" transform="rotate(-54.36) translate(-396 0) scale(1.11 1)" dy="7">Streptococcus</text></g>
<g id="n62"><text class="e" transform="rotate(-50.79) translate(-396 0) scale(1.11 1)" dy="7">YC-ZSS-LKJ147</text></g>
<g id="n63"><text class="e" transform="rotate(-47.23) translate(-396 0) scale(1.11 1)" dy="7">Actinoplanes</text></g>
<g id="n64"><text class="e" transform="rotate(-43.66) translate(-396 0) scale(1.11 1)" dy="7">Mycobacterium</text></g>
<g id="n65"><text class="e" transform="rotate(-40.10) translate(-396 0) scale(1.11 1)" dy="7">Pseudonocardia</text></g>
<g id="n66"><text class="e" transform="rotate(-36.53) translate(-396 0) scale(1.11 1)" dy="7">Lechevalieria</text></g>
<g id="n67"><text class="e" transform="rotate(-32.97) translate(-396 0) scale(1.11 1)" dy="7">Microlunatus</text></g>
<g id="n68"><text class="e" transform="rotate(-29.41) translate(-396 0) scale(1.11 1)" dy="7">Nocardioides</text></g>
<g id="n69"><text class="e" transform="rotate(-25.84) translate(-396 0) scale(1.11 1)" dy="7">Bifidobacterium</text></g>
<g id="n70"><text class="e" transform="rotate(-22.28) translate(-396 0) scale(1.11 1)" dy="7">Arthrobacter</text></g>
<g id="n71"><text class="e" transform="rotate(-18.71) translate(-396 0) scale(1.11 1)" dy="7">Streptomyces</text></g>
<g id="n72"><text class="e" transform="rotate(-15.15) translate(-396 0) scale(1.11 1)" dy="7">Rubrobacter</text></g>
<g id="n73"><text class="e" transform="rotate(-11.58) translate(-396 0) scale(1.11 1)" dy="7">Solirubrobacter</text></g>
<g id="n74"><text class="e" transform="rotate(-8.02) translate(-396 0) scale(1.11 1)" dy="7">Gaiella</text></g>
<g id="n75"><text class="e" transform="rotate(-4.46) translate(-396 0) scale(1.11 1)" dy="7">Turneriella</text></g>
<g id="n76"><text class="e" transform="rotate(-0.89) translate(-396 0) scale(1.11 1)" dy="7">OLB12</text></g>
<g id="n77"><text class="e" transform="rotate(2.67) translate(-396 0) scale(1.11 1)" dy="7">Ohtaekwangia</text></g>
<g id="n78"><text class="e" transform="rotate(6.24) translate(-396 0) scale(1.11 1)" dy="7">Hassallia</text></g>
<g id="n79"><text class="e" transform="rotate(9.80) translate(-396 0) scale(1.11 1)" dy="7">Chryseolinea</text></g>
<g id="n80"><text class="e" transform="rotate(13.37) translate(-396 0) scale(1.11 1)" dy="7">Parafilimonas</text></g>
<g id="n81"><text class="e" transform="rotate(16.93) translate(-396 0) scale(1.11 1)" dy="7">Terrimonas</text></g>
<g id="n82"><text class="e" transform="rotate(20.50) translate(-396 0) scale(1.11 1)" dy="7">Aurantisolimonas</text></g>
<g id="n83"><text class="e" transform="rotate(24.06) translate(-396 0) scale(1.11 1)" dy="7">Flavisolibacter</text></g>
<g id="n84"><text class="e" transform="rotate(27.62) translate(-396 0) scale(1.11 1)" dy="7">Flavitalea</text></g>
<g id="n85"><text class="e" transform="rotate(31.19) translate(-396 0) scale(1.11 1)" dy="7">Pseudoflavitalea</text></g>
<g id="n86"><text class="e" transform="rotate(34.75) translate(-396 0) scale(1.11 1)" dy="7">Puia</text></g>
<g id="n87"><text class="e" transform="rotate(38.32) translate(-396 0) scale(1.11 1)" dy="7">Ferruginibacter</text></g>
<g id="n88"><text class="e" transform="rotate(41.88) translate(-396 0) scale(1.11 1)" dy="7">Segetibacter</text></g>
<g id="n89"><text class="e" transform="rotate(45.45) translate(-396 0) scale(1.11 1)" dy="7">Flavobacterium</text></g>
<g id="n90"><text class="e" transform="rotate(49.01) translate(-396 0) scale(1.11 1)" dy="7">Chryseobacterium</text></g>
<g id="n91"><text class="e" transform="rotate(52.57) translate(-396 0) scale(1.11 1)" dy="7">Alistipes</text></g>
<g id="n92"><text class="e" transform="rotate(56.14) translate(-396 0) scale(1.11 1)" dy="7">Prevotella_9</text></g>
<g id="n93"><text class="e" transform="rotate(59.70) translate(-396 0) scale(1.11 1)" dy="7">Bacteroides</text></g>
<g id="n94"><text class="e" transform="rotate(63.27) translate(-396 0) scale(1.11 1)" dy="7">Sphingobacterium</text></g>
<g id="n95"><text class="e" transform="rotate(66.83) translate(-396 0) scale(1.11 1)" dy="7">unidentified_BSV26</text></g>
<g id="n96"><text class="e" transform="rotate(70.40) translate(-396 0) scale(1.11 1)" dy="7">UCG-002</text></g>
<g id="n97"><text class="e" transform="rotate(73.96) translate(-396 0) scale(1.11 1)" dy="7">Ruminococcus</text></g>
<g id="n98"><text class="e" transform="rotate(77.52) translate(-396 0) scale(1.11 1)" dy="7">Subdoligranulum</text></g>
<g id="n99"><text class="e" transform="rotate(81.09) translate(-396 0) scale(1.11 1)" dy="7">Faecalibacterium</text></g>
<g id="n100"><text class="e" transform="rotate(84.65) translate(-396 0) scale(1.11 1)" dy="7">Subgroup_10</text></g>
</g>
</g>
<g id="legend-abundance" class="lg">
<text transform="translate(7 27) scale(1.2 1)">Abundance</text>
<rect x="7" y="47.5" width="8" height="8" fill="#f00"/><text transform="translate(31 55) scale(1.2 1)">Mine.C</text>
<rect x="7" y="70.4" width="8" height="8" fill="#ffa500"/><text transform="translate(31 77.9) scale(1.2 1)">Control.C</text>
<rect x="7" y="93.3" width="8" height="8" fill="#008000"/><text transform="translate(31 100.8) scale(1.2 1)">Mine.P</text>
<rect x="7" y="116.2" width="8" height="8" fill="#00f"/><text transform="translate(31 123.7) scale(1.2 1)">Control.P</text>
<rect x="7" y="139.1" width="8" height="8" fill="#800080"/><text transform="translate(31 146.6) scale(1.2 1)">Mine.N</text>
<rect x="7" y="162" width="8" height="8" fill="#0f0"/><text transform="translate(31 169.5) scale(1.2 1)">Control.N</text>
<rect x="7" y="184.9" width="8" height="8" fill="#0ff"/><text transform="translate(31 192.4) scale(1.2 1)">Mine</text>
<rect x="7" y="207.8" width="8" height="8" fill="#f0f"/><text transform="translate(31 215.3) scale(1.2 1)">Control</text>
</g>
<g id="legend-phylum" class="lg">
<text transform="translate(1672 28) scale(1.2 1)">Phylum</text>
<rect x="1673" y="46.5" width="8" height="8" fill="#FFC0CB"/><text transform="translate(1695 55) scale(1.2 1)">Acidobacteriota</text>
<rect x="1673" y="69.4" width="8" height="8" fill="#F5DEB3"/><text transform="translate(1695 77.9) scale(1.2 1)">Verrucomicrobiota</text>
<rect x="1673" y="92.4" width="8" height="8" fill="#E0FFFF"/><text transform="translate(1695 100.9) scale(1.2 1)">Proteobacteria</text>
<rect x="1673" y="115.3" width="8" height="8" fill="#9370DB"/><text transform="translate(1695 123.8) scale(1.2 1)">Cyanobacteria</text>
<rect x="1673" y="138.2" width="8" height="8" fill="#DDA0DD"/><text transform="translate(1695 146.7) scale(1.2 1)">Bacteroidota</text>
<rect x="1673" y="161.1" width="8" height="8" fill="#9932CC"/><text transform="translate(1695 169.6) scale(1.2 1)">Actinobacteria</text>
<rect x="1673" y="184.1" width="8" height="8" fill="#9ACD32"/><text transform="translate(1695 192.6) scale(1.2 1)">Firmicutes</text>
<rect x="1673" y="207" width="8" height="8" fill="#CD853F"/><text transform="translate(1695 215.5) scale(1.2 1)">Actinobacteriota</text>
<rect x="1673" y="229.9" width="8" height="8" fill="#40E0D0"/><text transform="translate(1695 238.4) scale(1.2 1)">Deinococcota</text>
<rect x="1673" y="252.9" width="8" height="8" fill="#87CEEB"/><text transform="translate(1695 261.4) scale(1.2 1)">Myxococcota</text>
<rect x="1673" y="275.8" width="8" height="8" fill="#8B0000"/><text transform="translate(1695 284.3) scale(1.2 1)">Gemmatimonadota</text>
<rect x="1673" y="298.7" width="8" height="8" fill="#FF8C00"/><text transform="translate(1695 307.2) scale(1.2 1)">Crenarchaeota</text>
<rect x="1673" y="321.7" width="8" height="8" fill="#800080"/><text transform="translate(1695 330.2) scale(1.2 1)">Kryptonia</text>
<rect x="1673" y="344.6" width="8" height="8" fill="#228B22"/><text transform="translate(1695 353.1) scale(1.2 1)">Spirochaetota</text>
<rect x="1673" y="367.5" width="8" height="8" fill="#FFA500"/><text transform="translate(1695 376) scale(1.2 1)">Bdellovibrionota</text>
</g>
</svg>
